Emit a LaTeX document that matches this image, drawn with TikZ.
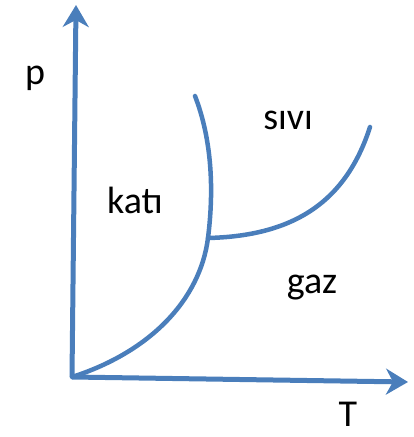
\documentclass[tikz,border=0pt]{standalone}
\usepackage{fontspec}
\setmainfont{Carlito}
\usetikzlibrary{arrows.meta}
\definecolor{phaseblue}{RGB}{74,126,187}

\begin{document}
\begin{tikzpicture}[
  x=1pt, y=-1pt,
  axis/.style={draw=phaseblue, line width=5pt, -{Stealth[length=22pt, width=26pt, inset=7pt]}},
  border/.style={draw=phaseblue, line width=4.5pt, line cap=round},
  every node/.style={font=\fontsize{38}{40}\selectfont, inner sep=0pt}
  ]
\useasboundingbox (0,0) rectangle (413,437);

% eksenler
\coordinate (origin) at (72,377);
\coordinate (ptop) at (76,5);
\coordinate (tend) at (408,382);
\draw[axis] (origin) -- (ptop);
\draw[axis] (origin) -- (tend);

% faz sinirlari
\coordinate (triple) at (208,238);
\coordinate (meltend) at (195,96);
\coordinate (boilend) at (370,127);
\draw[border] (origin) .. controls (150,352) and (200,300) .. (triple);
\draw[border] (triple) .. controls (214,190) and (212,140) .. (meltend);
\draw[border] (triple) .. controls (290,236) and (345,205) .. (boilend);

% etiketler
\node (p) at (35,78) {p};
\node[anchor=base] (T) at (348,426) {T};
\node (kati) at (135,200) {katı};
\node (sivi) at (288,120) {sıvı};
\node (gaz) at (312,288) {gaz};

\end{tikzpicture}
\end{document}
